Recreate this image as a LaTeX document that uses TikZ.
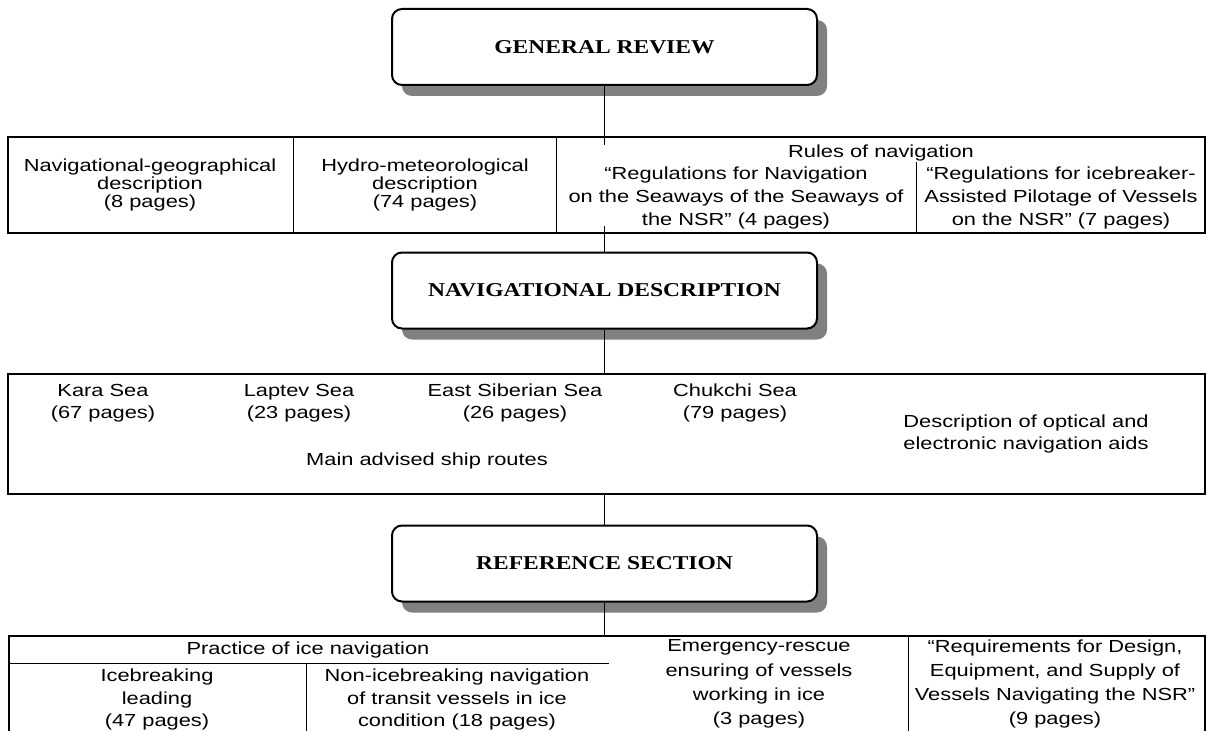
\documentclass[tikz,border=0pt]{standalone}
\usepackage{fontspec}
\setmainfont[FakeStretch=1.25]{Liberation Sans}
\newfontfamily\titlefont[FakeStretch=1.2]{Liberation Serif}
\usetikzlibrary{shadows,fit}

\tikzset{
    titlebox/.style={draw,line width=1.5pt,rounded corners=7.5pt,fill=white,
        minimum width=318.75pt,minimum height=57pt,
        font=\titlefont\bfseries\fontsize{14.7}{17}\selectfont,
        drop shadow={shadow xshift=7.5pt,shadow yshift=-8.25pt,fill=black!50,opacity=1}},
    tablebox/.style={draw,line width=1.5pt,inner sep=0pt},
    cell/.style={align=center,inner sep=0pt,font=\fontsize{13.1}{16.9}\selectfont},
    tightcell/.style={cell,font=\fontsize{13.1}{13.5}\selectfont},
    widecell/.style={cell,font=\fontsize{13.1}{18.2}\selectfont},
    link/.style={line width=0.75pt},
    rule/.style={line width=0.75pt}
}

\begin{document}
\begin{tikzpicture}[x=0.75pt,y=-0.75pt]
            \useasboundingbox (0,0) rectangle (1210,731);
            \clip (0,0) rectangle (1210,731);

            \node[titlebox] (gr) at (604.5,47) {GENERAL REVIEW};
            \node[titlebox] (nd) at (604.5,290.5) {NAVIGATIONAL DESCRIPTION};
            \node[titlebox] (rs) at (604.5,563.5) {REFERENCE SECTION};

            \node[tablebox,fit={(8,137) (1205,233)}] (t1) {};
            \node[tablebox,fit={(8,374) (1205,494)}] (t2) {};
            \node[tablebox,fit={(9,636) (1205,780)}] (t3) {};

            \draw[rule] (293,137) -- (293,233);
            \draw[rule] (556,137) -- (556,233);
            \draw[rule] (916,162) -- (916,233);
            \draw[rule] (9,663) -- (609,663);
            \draw[rule] (306,663) -- (306,780);
            \draw[rule] (908,636) -- (908,780);

            \draw[link,shorten >=-6.75pt] (gr.south) -- (gr.south |- t1.north);
            \draw[link,shorten <=-6pt] (nd.north |- t1.south) -- (nd.north);
            \draw[link] (nd.south) -- (nd.south |- t2.north);
            \draw[link] (rs.north |- t2.south) -- (rs.north);
            \draw[link] (rs.south) -- (rs.south |- t3.north);

            \node[tightcell] (navgeo) at (150,185) {Navigational-geographical\\description\\(8 pages)};
            \node[tightcell] (hydromet) at (425,185) {Hydro-meteorological\\description\\(74 pages)};
            \node[cell] (rules) at (881,153) {Rules of navigation};
            \node[cell] (regnav) at (736,198) {“Regulations for Navigation\\on the Seaways of the Seaways of\\the NSR” (4 pages)};
            \node[cell] (regice) at (1061,198) {“Regulations for icebreaker-\\Assisted Pilotage of Vessels\\on the NSR” (7 pages)};

            \node[cell] (kara) at (103,403) {Kara Sea\\(67 pages)};
            \node[cell] (laptev) at (299,403) {Laptev Sea\\(23 pages)};
            \node[cell] (eastsib) at (515,403) {East Siberian Sea\\(26 pages)};
            \node[cell] (chukchi) at (735,403) {Chukchi Sea\\(79 pages)};
            \node[cell] (routes) at (427,461) {Main advised ship routes};
            \node[cell] (aids) at (1026,434) {Description of optical and\\electronic navigation aids};

            \node[cell] (practice) at (308,650) {Practice of ice navigation};
            \node[cell] (icelead) at (157,699.5) {Icebreaking\\leading\\(47 pages)};
            \node[cell] (nonice) at (457,699.5) {Non-icebreaking navigation\\of transit vessels in ice\\condition (18 pages)};
            \node[widecell] (rescue) at (759,684) {Emergency-rescue\\ensuring of vessels\\working in ice\\(3 pages)};
            \node[widecell] (require) at (1055,684) {“Requirements for Design,\\Equipment, and Supply of\\Vessels Navigating the NSR”\\(9 pages)};
        \end{tikzpicture}
\end{document}
